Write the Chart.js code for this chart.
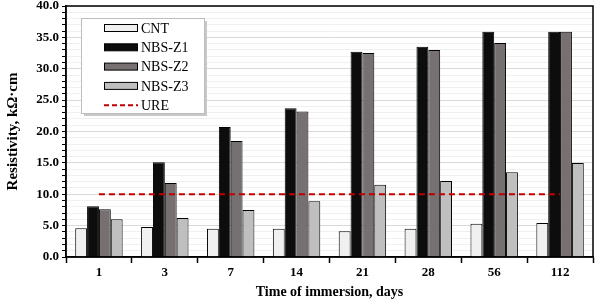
<!DOCTYPE html>
<html>
<head>
<meta charset="utf-8">
<script src="https://cdn.jsdelivr.net/npm/chart.js@4/dist/chart.umd.min.js"></script>
<style>
  html, body { margin: 0; padding: 0; background: #fff; }
  #wrap { width: 596px; height: 305px; }
</style>
</head>
<body>
<div id="wrap"><canvas id="resChart" width="596" height="305"></canvas></div>
<script>
// Daten
var days = ['1', '3', '7', '14', '21', '28', '56', '112'];
var cnt   = [4.6, 4.8, 4.5, 4.5, 4.1, 4.5, 5.3, 5.4];
var nbsZ1 = [8.1, 15.1, 20.7, 23.7, 32.7, 33.5, 35.9, 35.9];
var nbsZ2 = [7.6, 11.8, 18.5, 23.2, 32.5, 33.0, 34.1, 35.9];
var nbsZ3 = [6.0, 6.2, 7.5, 8.9, 11.5, 12.1, 13.5, 15.0];
var ure   = [10, 10, 10, 10, 10, 10, 10, 10];

var serif = '"Liberation Serif", "Times New Roman", serif';

// Rahmen um die Zeichenfläche
var frame = {
    id: 'frame',
    afterDatasetsDraw: (chart) => {
        var a = chart.chartArea, c = chart.ctx;
        c.save();
        c.strokeStyle = '#000';
        c.lineWidth = 1.5;
        c.strokeRect(a.left, a.top, a.right - a.left, a.bottom - a.top);
        c.restore();
    }
};

// Legende innerhalb des Diagramms
var boxLegend = {
    id: 'boxLegend',
    afterDraw: (chart) => {
        var c = chart.ctx;
        var x = 81, y = 18, w = 123, h = 95;
        c.save();
        c.fillStyle = '#c8c8c8';
        c.fillRect(x + 3, y + 3, w, h);
        c.fillStyle = '#fff';
        c.fillRect(x, y, w, h);
        c.strokeStyle = '#bdbdbd';
        c.lineWidth = 1;
        c.strokeRect(x + 0.5, y + 0.5, w, h);
        c.font = '14px ' + serif;
        c.textBaseline = 'middle';
        chart.data.datasets.forEach((ds, i) => {
            var cy = 28 + i * 19.3;
            if (ds.type === 'line') {
                c.strokeStyle = ds.borderColor;
                c.lineWidth = 2;
                c.setLineDash([5, 3]);
                c.beginPath();
                c.moveTo(104, cy);
                c.lineTo(138, cy);
                c.stroke();
                c.setLineDash([]);
            } else {
                c.fillStyle = ds.backgroundColor;
                c.fillRect(104.5, cy - 3.5, 33, 7);
                c.strokeStyle = '#000';
                c.lineWidth = 1;
                c.strokeRect(104.5, cy - 3.5, 33, 7);
            }
            c.fillStyle = '#000';
            c.fillText(ds.label, 141, cy + 1);
        });
        c.restore();
    }
};

var bar = (label, data, color) => ({
    type: 'bar',
    label: label,
    data: data,
    backgroundColor: color,
    borderColor: '#000',
    borderWidth: 1,
    categoryPercentage: 0.72,
    barPercentage: 1.0,
    order: 2
});

var ctx = document.getElementById('resChart').getContext('2d');
var chart = new Chart(ctx, {
    type: 'bar',
    data: {
        labels: days,
        datasets: [
            bar('CNT', cnt, '#f0f0f0'),
            bar('NBS-Z1', nbsZ1, '#0d0d0d'),
            bar('NBS-Z2', nbsZ2, '#767170'),
            bar('NBS-Z3', nbsZ3, '#bfbfbf'),
            {
                type: 'line',
                label: 'URE',
                data: ure,
                borderColor: '#c00000',
                borderWidth: 2,
                borderDash: [6, 4],
                pointRadius: 0,
                fill: false,
                order: 1
            }
        ]
    },
    options: {
        responsive: false,
        animation: false,
        layout: { padding: { top: 6, right: 3 } },
        plugins: {
            legend: { display: false },
            tooltip: { enabled: false }
        },
        scales: {
            x: {
                offset: true,
                grid: {
                    offset: true,
                    drawOnChartArea: false,
                    tickLength: 6,
                    tickColor: '#000',
                    tickWidth: 1.5
                },
                border: { color: '#000', width: 1.5 },
                ticks: {
                    color: '#000',
                    padding: 2,
                    font: { family: serif, size: 13, weight: 'bold' }
                },
                title: {
                    display: true,
                    text: 'Time of immersion, days',
                    color: '#000',
                    padding: { top: 3 },
                    font: { family: serif, size: 14, weight: 'bold' }
                },
                afterFit: (s) => { s.height = 48; }
            },
            y: {
                min: 0,
                max: 40,
                ticks: {
                    stepSize: 1,
                    autoSkip: false,
                    color: '#000',
                    padding: 3,
                    font: { family: serif, size: 13, weight: 'bold' },
                    callback: (v) => (v % 5 === 0 ? v.toFixed(1) : '')
                },
                grid: {
                    color: (c) => (c.tick && c.tick.value % 5 === 0 ? '#d9d9d9' : '#f0f0f0'),
                    tickColor: '#000',
                    tickLength: 4
                },
                border: { color: '#000', width: 1.5 },
                title: {
                    display: true,
                    text: 'Resistivity, kΩ·cm',
                    color: '#000',
                    padding: { bottom: 4 },
                    font: { family: serif, size: 15, weight: 'bold' }
                },
                afterFit: (s) => { s.width = 66; s.paddingTop = 0; s.paddingBottom = 0; }
            }
        }
    },
    plugins: [frame, boxLegend]
});
</script>
</body>
</html>
